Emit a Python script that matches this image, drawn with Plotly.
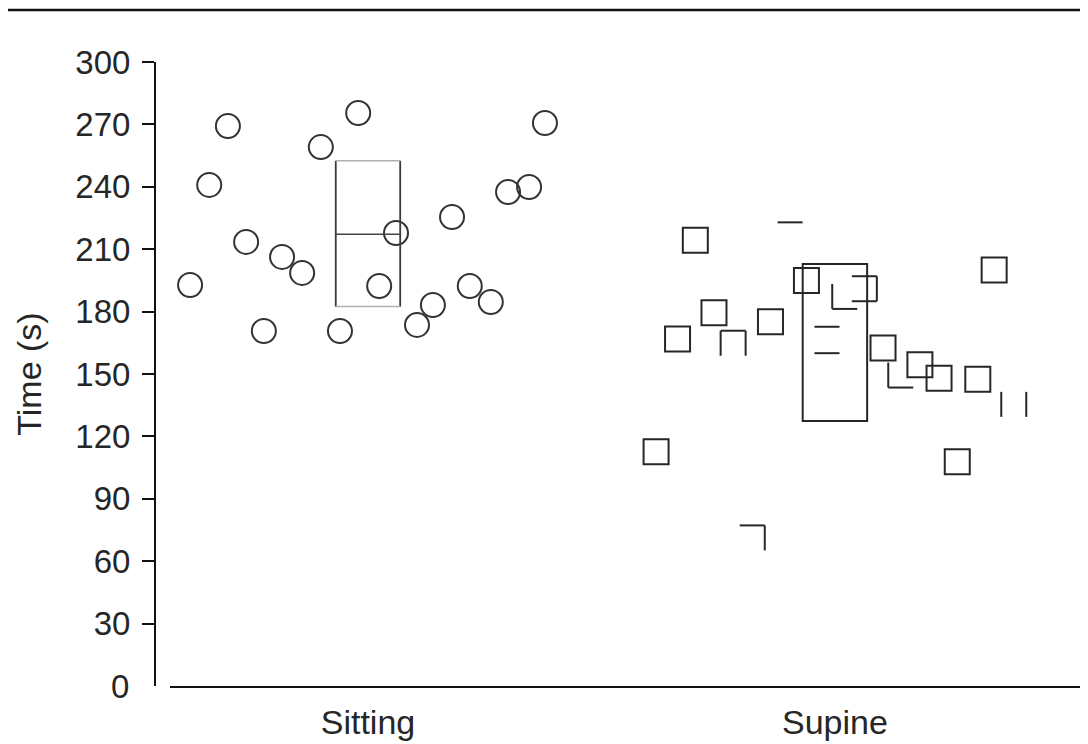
import plotly.graph_objects as go

# ---------------- data ----------------
categories = ["Sitting", "Supine"]
y_tickvals = [30, 60, 90, 120, 150, 180, 210, 240, 270, 300]

# horizontal jitter (in category units) and times (s)
sitting_jitter = [-0.381, -0.340, -0.300, -0.261, -0.223, -0.184, -0.141, -0.101,
                  -0.060, -0.021, 0.024, 0.060, 0.105, 0.139, 0.180, 0.218,
                  0.263, 0.300, 0.345, 0.379]
sitting_time = [192.8, 240.9, 269.2, 213.5, 170.7, 206.3, 198.6, 259.1,
                170.7, 275.5, 192.3, 217.8, 173.6, 183.2, 225.5, 192.3,
                184.6, 237.5, 239.9, 270.7]

supine_jitter = [-0.383, -0.337, -0.299, -0.259, -0.218, -0.177, -0.138, -0.096,
                 -0.061, -0.017, -0.017, 0.021, 0.063, 0.103, 0.141, 0.182,
                 0.223, 0.262, 0.306, 0.341, 0.383]
supine_time = [112.6, 166.8, 214.3, 179.5, 164.8, 71.2, 175.1, 216.9,
               194.9, 166.7, 154.0, 187.3, 191.0, 162.5, 149.5, 154.5,
               147.9, 107.8, 147.5, 200.0, 135.4]
# visible edges of each square in the scanned figure ("full" = complete square)
supine_edges = ["full", "full", "full", "full", "tlr", "tr", "full", "t",
                "full", "t", "t", "lb", "tbr", "full", "lb", "full",
                "full", "full", "full", "full", "lr"]

# mean +/- SD boxes
box_center = [0, 1]
box_low = [182.4, 127.4]
box_high = [252.5, 202.9]
sitting_mean = 217.2

# ---------------- figure ----------------
W, H = 1080, 736          # page adds an 8 px body margin
INK = "#262626"
fig = go.Figure()

fig.add_trace(go.Scatter(
    x=[0 + j for j in sitting_jitter],
    y=sitting_time, mode="markers", cliponaxis=False, showlegend=False,
    marker=dict(symbol="circle-open", size=24, color="#333333",
                line=dict(width=2, color="#333333")),
))

full_x = [1 + j for j, e in zip(supine_jitter, supine_edges) if e == "full"]
full_y = [t for t, e in zip(supine_time, supine_edges) if e == "full"]
fig.add_trace(go.Scatter(
    x=full_x, y=full_y, mode="markers", cliponaxis=False, showlegend=False,
    marker=dict(symbol="square-open", size=25, color=INK,
                line=dict(width=2, color=INK)),
))

# partial squares: draw only the visible edges, anchored at the data point
h = 12.5
edge_px = {"t": (-h, h, h, h), "b": (-h, -h, h, -h),
           "l": (-h, -h, -h, h), "r": (h, -h, h, h)}
shapes = []
for j, t, e in zip(supine_jitter, supine_time, supine_edges):
    if e == "full":
        continue
    for k in e:
        x0, y0, x1, y1 = edge_px[k]
        shapes.append(dict(type="line", xref="x", yref="y",
                           xsizemode="pixel", ysizemode="pixel",
                           xanchor=1 + j, yanchor=t,
                           x0=x0, x1=x1, y0=y0, y1=y1,
                           line=dict(color=INK, width=2)))

# boxes
bw = 0.069
c = box_center[0]
shapes += [
    dict(type="line", xref="x", yref="y", x0=c - bw, x1=c - bw, y0=box_low[0], y1=box_high[0],
         line=dict(color="#3a3a3a", width=1.8)),
    dict(type="line", xref="x", yref="y", x0=c + bw, x1=c + bw, y0=box_low[0], y1=box_high[0],
         line=dict(color="#3a3a3a", width=1.8)),
    dict(type="line", xref="x", yref="y", x0=c - bw, x1=c + bw, y0=box_high[0], y1=box_high[0],
         line=dict(color="#b0b0b0", width=1.5)),
    dict(type="line", xref="x", yref="y", x0=c - bw, x1=c + bw, y0=box_low[0], y1=box_low[0],
         line=dict(color="#b0b0b0", width=1.5)),
    dict(type="line", xref="x", yref="y", x0=c - bw, x1=c + bw, y0=sitting_mean, y1=sitting_mean,
         line=dict(color="#444444", width=1.5)),
]
c = box_center[1]
shapes.append(dict(type="rect", xref="x", yref="y", x0=c - bw, x1=c + bw,
                   y0=box_low[1], y1=box_high[1], line=dict(color=INK, width=2)))

# scan border at the top (y = 10 px in the page)
top_t, plot_h = 54, 624
shapes.append(dict(type="line", xref="paper", yref="paper", x0=-0.01, x1=1.01,
                   y0=1 + (top_t - 2) / plot_h, y1=1 + (top_t - 2) / plot_h,
                   line=dict(color="#111111", width=2.5)))

fig.update_layout(
    width=W, height=H,
    margin=dict(l=0, r=0, t=top_t, b=H - top_t - plot_h),
    paper_bgcolor="white", plot_bgcolor="white",
    font=dict(family="Liberation Sans, Arial, sans-serif", color=INK),
    shapes=shapes,
    xaxis=dict(domain=[162 / W, 1], range=[-0.424, 1.542],
               tickvals=box_center, ticktext=categories,
               tickfont=dict(size=34), showline=True, linecolor="#111111",
               linewidth=2, ticks="", showgrid=False, zeroline=False,
               ticklabelstandoff=5),
    yaxis=dict(anchor="free", position=147 / W, range=[0, 300],
               tickvals=y_tickvals, ticks="outside", ticklen=12, tickwidth=2,
               tickcolor="#111111", tickfont=dict(size=33),
               showline=True, linecolor="#111111", linewidth=2,
               showgrid=False, zeroline=False, automargin=False,
               ticklabelstandoff=5,
               title=dict(text="Time (s)", font=dict(size=34), standoff=22)),
    annotations=[dict(text="0", xref="paper", yref="y", x=123 / W, y=0,
                      xanchor="right", yanchor="middle", showarrow=False,
                      font=dict(size=33, color=INK))],
)

fig.write_html("out.html")
